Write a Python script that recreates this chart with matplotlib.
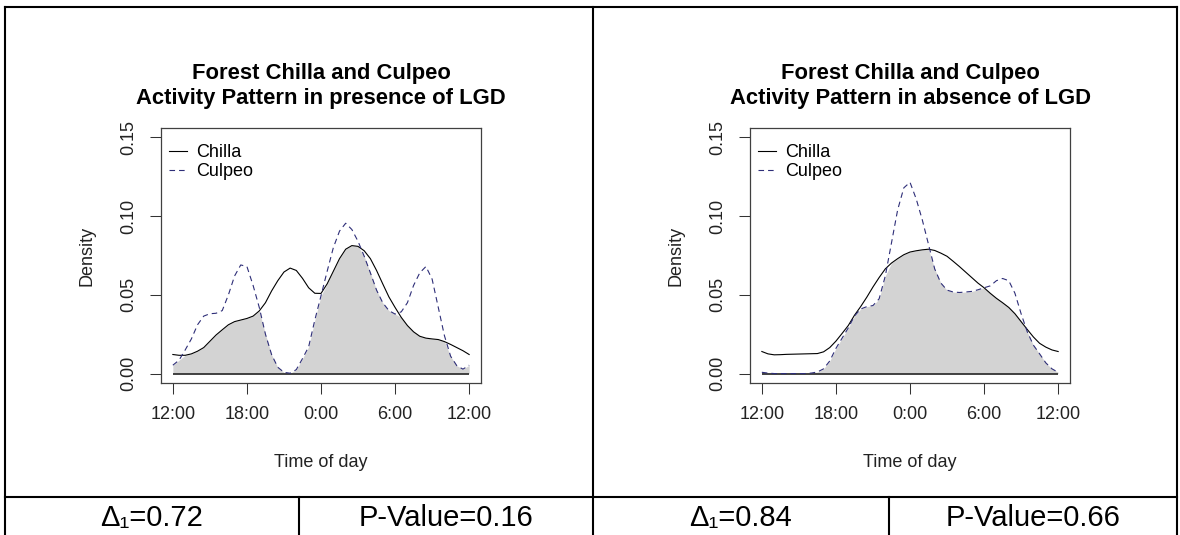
import matplotlib
matplotlib.use('Agg')
import matplotlib.pyplot as plt
import numpy as np
from matplotlib.lines import Line2D

plt.rcParams['font.family'] = ['Liberation Sans', 'DejaVu Sans']
plt.rcParams['lines.scale_dashes'] = False

# hours after 12:00 at which the curves were read (every half hour)
hours = np.arange(0, 24.01, 0.5)

tick_pos = [0, 6, 12, 18, 24]
tick_lab = ['12:00', '18:00', '0:00', '6:00', '12:00']
ytick_pos = [0.00, 0.05, 0.10, 0.15]
ytick_lab = ['0.00', '0.05', '0.10', '0.15']

# presence of LGD
chilla_pres = [0.0121, 0.0116, 0.0116, 0.0125, 0.0142, 0.0165, 0.0205, 0.0245, 0.0278, 0.0310,
               0.0330, 0.0340, 0.0350, 0.0365, 0.0398, 0.0450, 0.0525, 0.0590, 0.0645, 0.0670,
               0.0655, 0.0605, 0.0545, 0.0510, 0.0509, 0.0570, 0.0650, 0.0730, 0.0790, 0.0813,
               0.0808, 0.0780, 0.0730, 0.0655, 0.0570, 0.0487, 0.0420, 0.0357, 0.0305, 0.0265,
               0.0237, 0.0225, 0.0220, 0.0216, 0.0203, 0.0185, 0.0165, 0.0145, 0.0121]
culpeo_pres = [0.0053, 0.0085, 0.0150, 0.0220, 0.0310, 0.0365, 0.0380, 0.0383, 0.0400, 0.0500,
               0.0620, 0.0690, 0.0680, 0.0560, 0.0420, 0.0250, 0.0120, 0.0040, 0.0008, 0.0002,
               0.0025, 0.0095, 0.0170, 0.0340, 0.0494, 0.0650, 0.0800, 0.0905, 0.0955, 0.0915,
               0.0840, 0.0745, 0.0640, 0.0530, 0.0450, 0.0400, 0.0378, 0.0392, 0.0450, 0.0560,
               0.0640, 0.0680, 0.0600, 0.0420, 0.0240, 0.0110, 0.0050, 0.0028, 0.0053]

# absence of LGD
chilla_abs = [0.0140, 0.0125, 0.0119, 0.0120, 0.0122, 0.0123, 0.0124, 0.0125, 0.0126, 0.0127,
              0.0138, 0.0165, 0.0206, 0.0255, 0.0305, 0.0370, 0.0425, 0.0485, 0.0550, 0.0610,
              0.0665, 0.0702, 0.0730, 0.0755, 0.0772, 0.0780, 0.0786, 0.0790, 0.0782, 0.0765,
              0.0745, 0.0713, 0.0680, 0.0645, 0.0610, 0.0575, 0.0545, 0.0510, 0.0478, 0.0450,
              0.0420, 0.0380, 0.0330, 0.0280, 0.0232, 0.0192, 0.0168, 0.0150, 0.0140]
culpeo_abs = [0.0008, 0.0003, 0.0000, 0.0000, 0.0000, 0.0000, 0.0000, 0.0000, 0.0003, 0.0010,
              0.0030, 0.0080, 0.0160, 0.0225, 0.0290, 0.0365, 0.0410, 0.0425, 0.0432, 0.0475,
              0.0620, 0.0830, 0.1040, 0.1180, 0.1215, 0.1110, 0.0975, 0.0820, 0.0665, 0.0575,
              0.0530, 0.0518, 0.0515, 0.0518, 0.0522, 0.0532, 0.0545, 0.0557, 0.0590, 0.0604,
              0.0590, 0.0510, 0.0380, 0.0265, 0.0180, 0.0125, 0.0068, 0.0030, 0.0008]

titles = ['Forest Chilla and Culpeo\nActivity Pattern in presence of LGD',
          'Forest Chilla and Culpeo\nActivity Pattern in absence of LGD']
deltas = ['\u0394\u2081=0.72', '\u0394\u2081=0.84']
pvals = ['P-Value=0.16', 'P-Value=0.66']

W, H = 1180, 535
fig = plt.figure(figsize=(W / 100, H / 100), dpi=100)


def px_axes(x0, x1, y0, y1):
    return fig.add_axes([x0 / W, 1 - y1 / H, (x1 - x0) / W, (y1 - y0) / H])


def panel(ax, chilla, culpeo, title):
    chilla = np.array(chilla)
    culpeo = np.array(culpeo)
    ax.fill_between(hours, 0, np.minimum(chilla, culpeo), color='#d3d3d3', lw=0)
    ax.hlines(0, hours[0], hours[-1], color='#333333', lw=1.3)
    ax.plot(hours, chilla, color='black', lw=0.8, label='Chilla')
    ax.plot(hours, culpeo, color='#2e2e78', lw=0.8, ls=(0, (4.0, 2.9)), label='Culpeo')
    ax.set_xlim(-0.96, 24.96)
    ax.set_ylim(-0.006, 0.156)
    ax.set_xticks(tick_pos)
    ax.set_xticklabels(tick_lab)
    ax.set_yticks(ytick_pos)
    ax.set_yticklabels(ytick_lab, rotation=90, va='center')
    ax.tick_params(axis='both', direction='out', length=7.9, width=0.75,
                   color='#333333', labelsize=13, labelcolor='#222222')
    ax.tick_params(axis='x', pad=9)
    ax.tick_params(axis='y', pad=9.1)
    for s in ax.spines.values():
        s.set_color('#404040')
        s.set_linewidth(0.9)
    ax.text(0.5, 1.165, title, transform=ax.transAxes, ha='center', va='center',
            fontsize=15.8, fontweight='bold', linespacing=1.2)
    ax.text(0.5, -0.31, 'Time of day', transform=ax.transAxes, ha='center', va='center',
            fontsize=13, color='#222222')
    ax.text(-0.232, 0.5, 'Density', transform=ax.transAxes, ha='center', va='center',
            rotation=90, fontsize=13, color='#222222')
    ax.legend(loc='upper left', bbox_to_anchor=(0, 1 - 8 / 255), frameon=False,
              fontsize=13, handlelength=1.0, handletextpad=0.5, borderpad=0,
              borderaxespad=0.45, labelspacing=0.12)


ax1 = px_axes(161, 481, 128, 383)
panel(ax1, chilla_pres, culpeo_pres, titles[0])
ax2 = px_axes(750, 1070, 128, 383)
panel(ax2, chilla_abs, culpeo_abs, titles[1])


# table frame
def hline(y, x0, x1):
    fig.add_artist(Line2D([x0 / W, x1 / W], [1 - y / H, 1 - y / H], color='black', lw=1.5))


def vline(x, y0, y1):
    fig.add_artist(Line2D([x / W, x / W], [1 - y0 / H, 1 - y1 / H], color='black', lw=1.5))


hline(7, 5, 1177)
hline(497, 5, 1177)
vline(5, 7, 535)
vline(593, 7, 535)
vline(1177, 7, 535)
vline(299, 497, 535)
vline(889, 497, 535)

for xc, txt in zip([152, 741], deltas):
    fig.text(xc / W, 1 - 518 / H, txt, ha='center', va='center', fontsize=21)
for xc, txt in zip([446, 1033], pvals):
    fig.text(xc / W, 1 - 518 / H, txt, ha='center', va='center', fontsize=21)

fig.savefig('out.png', dpi=100)
